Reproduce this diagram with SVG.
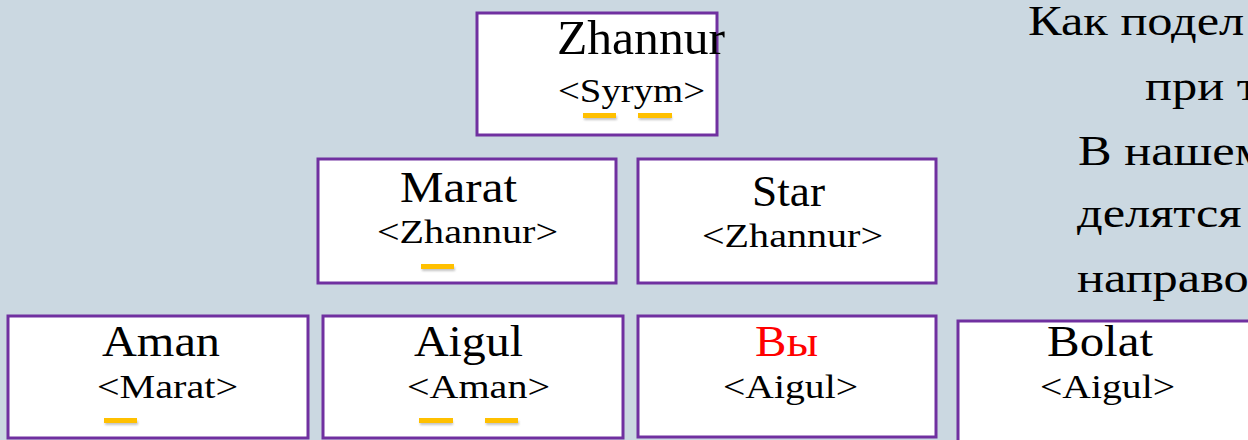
<svg xmlns="http://www.w3.org/2000/svg" width="1248" height="440" viewBox="0 0 1248 440">
<style>
.bg{fill:#CBD8E1}
.box{fill:#FFFFFF;stroke:#7030A0;stroke-width:3}
.t{fill:#000}
.n{font-size:44px}
.s{font-size:34px}
.red{fill:#FF0000}
.u{fill:#FFC000}
.sh{fill:#8a8a8a;opacity:0.5}
.side{font-size:42px;fill:#000}
</style>
<defs>
<filter id="blur" x="-20%" y="-50%" width="140%" height="200%"><feGaussianBlur stdDeviation="1"/></filter>
</defs>
<rect class="bg" x="0" y="0" width="1248" height="440"/>

<g font-family="'Liberation Serif', 'Times New Roman', serif">
<g id="node-zhannur">
<rect class="box" x="477" y="13" width="240" height="122"/>
<text class="t n" x="557" y="54" textLength="168" lengthAdjust="spacingAndGlyphs" style="font-size:48px">Zhannur</text>
<text class="t s" x="558" y="102" textLength="147" lengthAdjust="spacingAndGlyphs">&lt;Syrym&gt;</text>
<rect class="sh" x="584" y="116" width="33" height="4" filter="url(#blur)"/>
<rect class="u" x="583" y="113" width="33" height="5"/>
<rect class="sh" x="639" y="116" width="33" height="4" filter="url(#blur)"/>
<rect class="u" x="638" y="113" width="34" height="5"/>
</g>

<g id="node-marat">
<rect class="box" x="318" y="159" width="298" height="124"/>
<text class="t n" x="400" y="202" textLength="117" lengthAdjust="spacingAndGlyphs">Marat</text>
<text class="t s" x="377" y="243" textLength="181" lengthAdjust="spacingAndGlyphs">&lt;Zhannur&gt;</text>
<rect class="sh" x="422" y="267" width="33" height="4" filter="url(#blur)"/>
<rect class="u" x="421" y="264" width="33" height="5"/>
</g>

<g id="node-star">
<rect class="box" x="638" y="159" width="298" height="124"/>
<text class="t n" x="752" y="206" textLength="73" lengthAdjust="spacingAndGlyphs">Star</text>
<text class="t s" x="702" y="247" textLength="181" lengthAdjust="spacingAndGlyphs">&lt;Zhannur&gt;</text>
</g>

<g id="node-aman">
<rect class="box" x="8" y="316" width="300" height="122"/>
<text class="t n" x="102" y="356" textLength="118" lengthAdjust="spacingAndGlyphs">Aman</text>
<text class="t s" x="97" y="398" textLength="141" lengthAdjust="spacingAndGlyphs">&lt;Marat&gt;</text>
<rect class="sh" x="105" y="421" width="33" height="4" filter="url(#blur)"/>
<rect class="u" x="104" y="418" width="33" height="5"/>
</g>

<g id="node-aigul">
<rect class="box" x="323" y="316" width="300" height="122"/>
<text class="t n" x="414" y="356" textLength="109" lengthAdjust="spacingAndGlyphs">Aigul</text>
<text class="t s" x="407" y="398" textLength="143" lengthAdjust="spacingAndGlyphs">&lt;Aman&gt;</text>
<rect class="sh" x="420" y="421" width="33" height="4" filter="url(#blur)"/>
<rect class="u" x="419" y="418" width="34" height="5"/>
<rect class="sh" x="486" y="421" width="33" height="4" filter="url(#blur)"/>
<rect class="u" x="485" y="418" width="33" height="5"/>
</g>

<g id="node-you">
<rect class="box" x="638" y="316" width="298" height="121"/>
<text class="t n red" x="755" y="356" textLength="63" lengthAdjust="spacingAndGlyphs">Вы</text>
<text class="t s" x="723" y="398" textLength="135" lengthAdjust="spacingAndGlyphs">&lt;Aigul&gt;</text>
</g>

<g id="node-bolat">
<rect class="box" x="958" y="321" width="320" height="140"/>
<text class="t n" x="1047" y="356" textLength="106" lengthAdjust="spacingAndGlyphs">Bolat</text>
<text class="t s" x="1040" y="398" textLength="135" lengthAdjust="spacingAndGlyphs">&lt;Aigul&gt;</text>
</g>

<g id="connectors"></g>

<g id="side-text">
<text class="side" transform="translate(1028 35) scale(1.2 1)">Как подел</text>
<text class="side" transform="translate(1145 100) scale(1.2 1)">при т</text>
<text class="side" transform="translate(1078 165) scale(1.2 1)">В нашем</text>
<text class="side" transform="translate(1077 227) scale(1.2 1)">делятся</text>
<text class="side" transform="translate(1077 292) scale(1.2 1)">направо</text>
</g>
</g>
</svg>
